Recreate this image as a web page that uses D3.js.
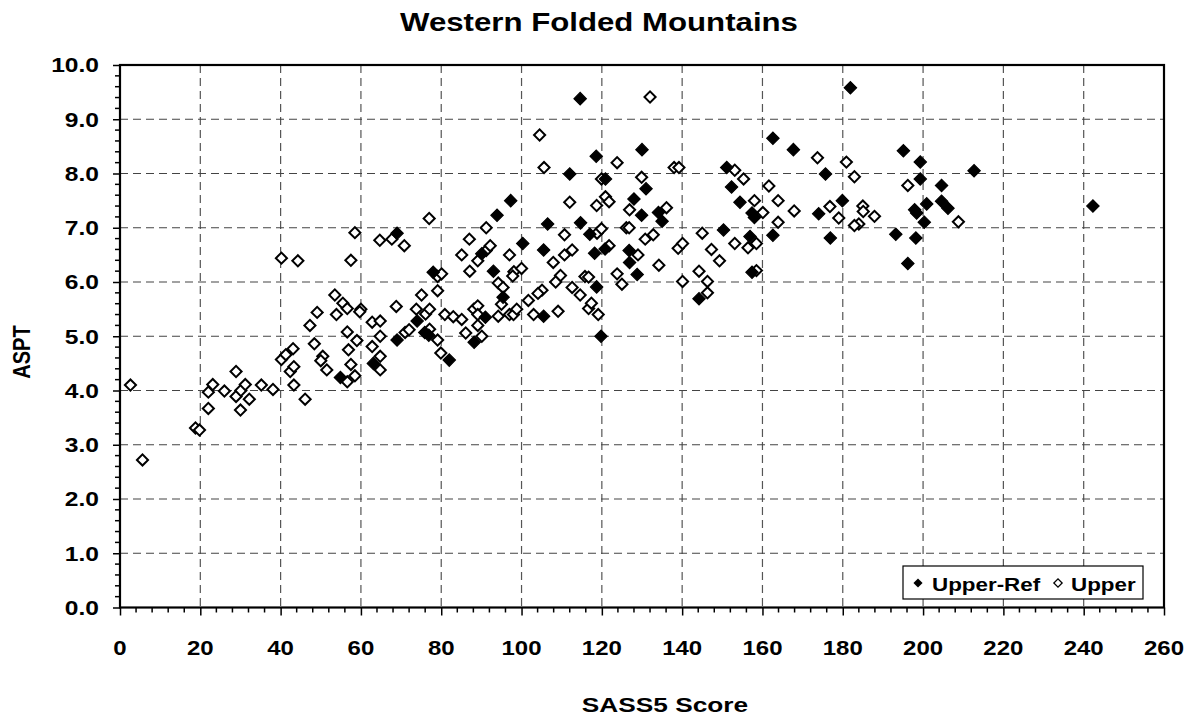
<!DOCTYPE html>
<html>
<head>
<meta charset="utf-8">
<script src="https://cdn.jsdelivr.net/npm/d3@7"></script>
<style>
  html, body { margin: 0; padding: 0; background: #fff; }
  svg { display: block; font-family: "Liberation Sans", Arial, sans-serif; }
</style>
</head>
<body>
<svg id="chart" width="1198" height="720"></svg>
<script>
// SASS5 score vs ASPT, Western Folded Mountains
const title = "Western Folded Mountains";
const xLabel = "SASS5 Score";
const yLabel = "ASPT";
const xTicks = [0, 20, 40, 60, 80, 100, 120, 140, 160, 180, 200, 220, 240, 260];
const yTicks = [0, 1, 2, 3, 4, 5, 6, 7, 8, 9, 10];
const seriesNames = ["Upper-Ref", "Upper"];

// Upper-Ref sites: [SASS5 score, ASPT]
const upperRef = [
  [54.9,4.24],[63.1,4.50],[69.0,6.90],[69.0,4.93],[74.0,5.28],[75.9,5.07],[76.9,5.02],
  [78.0,6.18],[82.0,4.56],[88.2,4.89],[91.0,5.35],[90.1,6.52],[93.9,7.23],[97.3,7.50],
  [100.3,6.71],[93.0,6.20],[95.4,5.72],[114.6,9.38],[118.6,8.32],[112.0,7.99],[130.0,8.44],
  [120.9,7.90],[131.0,7.72],[151.1,8.11],[152.3,7.75],[162.6,8.65],[167.7,8.44],[175.7,7.99],
  [181.9,9.58],[195.1,8.42],[199.3,8.21],[199.3,7.90],[204.6,7.78],[128.0,7.53],[129.9,7.23],
  [134.1,7.28],[135.0,7.12],[106.5,7.07],[114.7,7.09],[117.0,6.88],[105.5,6.59],[118.2,6.53],
  [120.8,6.61],[126.8,6.58],[126.9,6.36],[128.8,6.14],[118.7,5.91],[105.5,5.37],[119.8,5.00],
  [144.2,5.69],[150.3,6.96],[154.4,7.47],[157.4,7.27],[158.0,7.19],[162.6,6.86],[156.9,6.84],
  [157.4,6.18],[174.0,7.26],[179.9,7.50],[176.9,6.81],[193.2,6.88],[196.2,6.34],[198.2,6.81],
  [197.9,7.33],[198.4,7.27],[200.3,7.10],[200.9,7.44],[204.6,7.49],[206.2,7.36],[212.7,8.05],
  [242.3,7.40]
];

// Upper sites: [SASS5 score, ASPT]
const upper = [
  [2.6,4.10],[5.6,2.72],[18.8,3.31],[19.8,3.27],[22.0,3.67],[22.0,3.97],[23.1,4.11],[26.0,3.99],
  [28.9,4.35],[28.9,3.89],[30.0,3.64],[30.1,4.00],[31.2,4.11],[32.2,3.84],[35.2,4.10],[38.1,4.02],
  [40.2,6.44],[44.3,6.39],[40.2,4.57],[41.3,4.66],[43.1,4.77],[42.4,4.35],[43.3,4.44],[43.3,4.10],
  [46.1,3.84],[47.3,5.20],[49.1,5.44],[48.4,4.86],[50.5,4.63],[50.0,4.55],[51.5,4.38],[53.5,5.76],
  [55.5,5.61],[56.6,5.51],[53.9,5.40],[56.6,4.16],[56.6,5.08],[56.9,4.75],[57.5,4.48],[58.5,4.27],
  [59.0,4.92],[58.5,6.91],[57.5,6.40],[60.0,5.50],[59.7,5.45],[62.8,5.26],[64.8,5.28],[62.8,4.81],
  [64.8,5.00],[64.8,4.63],[64.8,4.38],[64.7,6.77],[67.7,6.79],[70.8,6.67],[68.8,5.55],[71.0,5.07],
  [72.0,5.12],[73.8,5.50],[75.1,5.76],[76.1,5.41],[77.0,7.17],[77.1,5.50],[77.1,5.13],[79.1,6.10],
  [80.1,6.15],[79.1,5.84],[79.1,4.93],[79.9,4.69],[80.9,5.40],[83.0,5.36],[85.1,5.31],[86.1,5.06],
  [85.1,6.50],[87.0,6.79],[87.1,6.20],[88.1,5.50],[89.1,5.56],[89.1,5.40],[89.1,5.20],[90.1,5.00],
  [89.1,6.39],[91.2,6.58],[92.2,6.67],[91.2,7.00],[94.2,5.98],[95.4,5.90],[95.0,5.59],[94.2,5.37],
  [97.0,6.50],[98.1,6.19],[97.8,6.11],[100.0,6.25],[97.0,5.40],[98.0,5.40],[98.8,5.50],[101.7,5.66],
  [132.0,9.41],[104.5,8.71],[105.6,8.11],[123.8,8.20],[119.9,7.90],[129.9,7.93],[138.0,8.11],
  [139.2,8.11],[153.1,8.06],[155.3,7.90],[173.7,8.29],[180.9,8.21],[182.9,7.94],[196.2,7.78],
  [112.0,7.47],[118.7,7.41],[120.9,7.57],[121.8,7.48],[126.9,7.33],[136.1,7.37],[118.8,6.90],
  [119.9,6.98],[126.1,7.00],[126.8,7.00],[110.7,6.87],[112.6,6.59],[110.7,6.50],[107.9,6.36],
  [121.8,6.67],[129.0,6.50],[130.8,6.79],[132.8,6.87],[134.2,6.31],[123.8,6.15],[125.0,5.96],
  [109.7,6.12],[108.5,6.00],[115.8,6.10],[116.7,6.09],[112.6,5.90],[114.6,5.76],[105.1,5.85],
  [104.1,5.79],[103.0,5.40],[109.1,5.46],[116.7,5.51],[117.4,5.61],[119.1,5.40],[140.1,6.01],
  [139.0,6.62],[140.1,6.71],[145.0,6.90],[147.3,6.60],[149.3,6.39],[144.2,6.20],[146.3,6.01],
  [146.3,5.80],[153.1,6.71],[158.0,7.50],[160.1,7.28],[161.6,7.77],[163.9,7.50],[163.9,7.10],
  [156.4,6.63],[158.5,6.71],[158.5,6.21],[167.9,7.31],[176.8,7.39],[179.0,7.18],[185.0,7.40],
  [185.1,7.30],[184.0,7.07],[182.9,7.04],[187.9,7.21],[208.8,7.11]
];

const svg = d3.select("#chart");
const plot = { left: 120, top: 65, right: 1164, bottom: 607.5 };

const x = d3.scaleLinear().domain([0, 260]).range([plot.left, plot.right]);
const y = d3.scaleLinear().domain([0, 10]).range([plot.bottom, plot.top]);

// places a bold label, widened horizontally by sx (or along its length when rotated)
function label(sel, px, py, txt, size, anchor, sx = 1.2, rotate = 0) {
  const g = sel.append("g")
    .attr("transform", `translate(${px},${py})` + (rotate ? ` rotate(${rotate})` : ""));
  g.append("text")
    .attr("transform", rotate ? `scale(1,${sx})` : `scale(${sx},1)`)
    .attr("text-anchor", anchor)
    .style("font-size", size + "px").style("font-weight", "bold")
    .attr("fill", "#000")
    .text(txt);
  return g;
}

// dashed grid
const grid = svg.append("g").attr("class", "grid");
grid.selectAll("line.v").data(xTicks.slice(1, -1)).join("line")
  .attr("x1", d => x(d)).attr("x2", d => x(d))
  .attr("y1", plot.top).attr("y2", plot.bottom)
  .attr("stroke", "#555").attr("stroke-width", 1.2).attr("stroke-dasharray", "8,5");
grid.selectAll("line.h").data(yTicks.slice(1, -1)).join("line")
  .attr("x1", plot.left).attr("x2", plot.right)
  .attr("y1", d => y(d)).attr("y2", d => y(d))
  .attr("stroke", "#444").attr("stroke-width", 1.2).attr("stroke-dasharray", "8,5");

// axes: major ticks from the scales, minor ticks every 4 / 0.2
const xMinor = d3.range(0, 260.01, 4).filter(v => v % 20 !== 0);
const yMinor = d3.range(0, 10.001, 0.2).filter(v => Math.abs(v - Math.round(v)) > 1e-6);

const xAxis = d3.axisBottom(x).tickValues(xTicks).tickFormat("").tickSize(8);
const yAxis = d3.axisLeft(y).tickValues(yTicks).tickFormat("").tickSize(7);

const gx = svg.append("g").attr("transform", `translate(0,${plot.bottom})`).call(xAxis);
gx.append("g").selectAll("line").data(xMinor).join("line")
  .attr("x1", d => x(d)).attr("x2", d => x(d)).attr("y1", 0).attr("y2", 5)
  .attr("stroke", "#000").attr("stroke-width", 1.5);
const gy = svg.append("g").attr("transform", `translate(${plot.left},0)`).call(yAxis);
gy.append("g").selectAll("line").data(yMinor).join("line")
  .attr("y1", d => y(d)).attr("y2", d => y(d)).attr("x1", 0).attr("x2", -5)
  .attr("stroke", "#000").attr("stroke-width", 1.5);
[gx, gy].forEach(g => {
  g.select(".domain").remove();
  g.selectAll(".tick line").attr("stroke", "#000").attr("stroke-width", 1.5);
});

// tick labels
const fmtX = d3.format("d"), fmtY = d3.format(".1f");
const xl = svg.append("g");
xTicks.forEach(t => label(xl, x(t), 655, fmtX(t), 20, "middle"));
const yl = svg.append("g");
yTicks.forEach(t => label(yl, 99, y(t) + 7.3, fmtY(t), 20.5, "end"));

// plot frame
svg.append("rect")
  .attr("x", plot.left).attr("y", plot.top)
  .attr("width", plot.right - plot.left).attr("height", plot.bottom - plot.top)
  .attr("fill", "none").attr("stroke", "#000").attr("stroke-width", 2.2);

// markers
const sq = s => d3.symbol().type(d3.symbolSquare).size(s);
svg.append("g").selectAll("path").data(upper).join("path")
  .attr("d", sq(62))
  .attr("transform", d => `translate(${x(d[0])},${y(d[1])}) rotate(45)`)
  .attr("fill", "#fff").attr("stroke", "#000").attr("stroke-width", 2);
svg.append("g").selectAll("path").data(upperRef).join("path")
  .attr("d", sq(76))
  .attr("transform", d => `translate(${x(d[0])},${y(d[1])}) rotate(45)`)
  .attr("fill", "#000").attr("stroke", "#000").attr("stroke-width", 1.2);

// legend
const lg = svg.append("g").attr("transform", "translate(903,566)");
lg.append("rect").attr("width", 240).attr("height", 33)
  .attr("fill", "#fff").attr("stroke", "#000").attr("stroke-width", 1.2);
lg.append("path").attr("d", sq(42)).attr("transform", "translate(15,17) rotate(45)")
  .attr("fill", "#000");
label(lg, 29, 24.5, seriesNames[0], 17.5, "start", 1.28);
lg.append("path").attr("d", sq(34)).attr("transform", "translate(155,17) rotate(45)")
  .attr("fill", "#fff").attr("stroke", "#000").attr("stroke-width", 1.3);
label(lg, 168, 24.5, seriesNames[1], 17.5, "start", 1.28);

// titles
label(svg, 599, 31, title, 26, "middle");
label(svg, 665, 712, xLabel, 21, "middle", 1.25);
label(svg, 30, 352, yLabel, 20, "middle", 1.15, -90);
</script>
</body>
</html>
